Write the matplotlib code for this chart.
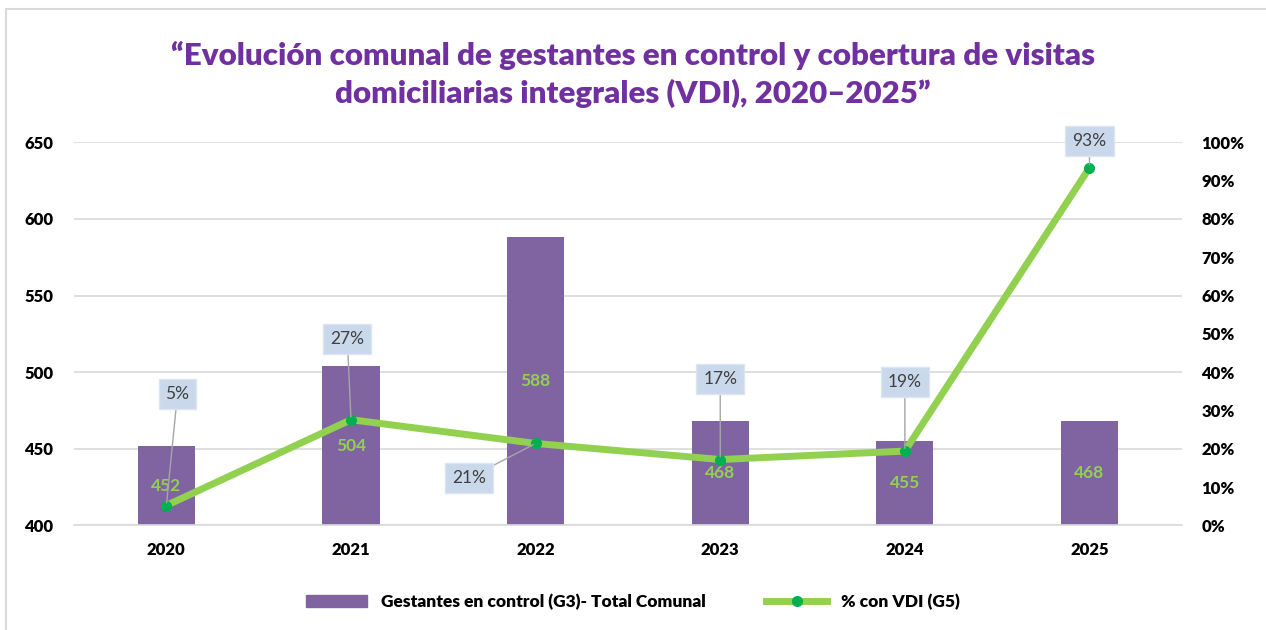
import matplotlib.pyplot as plt
import matplotlib.patches as mpatches
from matplotlib.lines import Line2D
import numpy as np

plt.rcParams['font.family'] = ['Lato', 'DejaVu Sans']

# data
years = ["2020", "2021", "2022", "2023", "2024", "2025"]
gestantes = [452, 504, 588, 468, 455, 468]
pct_vdi = [0.052, 0.276, 0.214, 0.172, 0.194, 0.934]
pct_labels = ["5%", "27%", "21%", "17%", "19%", "93%"]

BAR_COLOR = "#8064A2"
LINE_COLOR = "#92D050"
MARK_COLOR = "#00B050"
TITLE_COLOR = "#7030A0"

fig = plt.figure(figsize=(12.66, 6.3), dpi=100)
ax = fig.add_axes([0.0585, 0.166, 0.875, 0.608])
ax2 = ax.twinx()

x = np.arange(len(years))
ax.bar(x, [g - 400 for g in gestantes], bottom=400, width=0.31, color=BAR_COLOR, zorder=2)
ax.set_ylim(400, 650)
ax.set_xlim(-0.5, len(years) - 0.5)
ax.set_yticks(range(400, 651, 50))
ax.set_xticks(x)
ax.set_xticklabels(years)
ax.yaxis.grid(True, color="#d9d9d9", lw=1.2, zorder=0)
ax.set_axisbelow(True)
for s in ax.spines.values():
    s.set_visible(False)
for s in ax2.spines.values():
    s.set_visible(False)
ax.spines['bottom'].set_visible(True)
ax.spines['bottom'].set_color("#d9d9d9")
ax.spines['bottom'].set_linewidth(1.2)
ax.tick_params(length=0, labelsize=12, pad=12)
ax.tick_params(axis='y', pad=15)
for lbl in ax.get_xticklabels() + ax.get_yticklabels():
    lbl.set_fontweight('heavy')

# bar value labels, centred in the visible part of each bar
for i, g in enumerate(gestantes):
    ax.text(i, (400 + g) / 2, str(g), ha='center', va='center', color=LINE_COLOR,
            fontsize=12.5, fontweight='bold', zorder=3)

ax2.plot(x, pct_vdi, color=LINE_COLOR, lw=5, marker='o', ms=7,
         markerfacecolor=MARK_COLOR, markeredgecolor=MARK_COLOR, zorder=4,
         solid_capstyle='round')
ax2.set_ylim(0, 1)
ax2.set_yticks(np.arange(0, 1.01, 0.1))
ax2.set_yticklabels([f"{int(round(v * 100))}%" for v in np.arange(0, 1.01, 0.1)])
ax2.tick_params(length=0, labelsize=12, pad=14)
for lbl in ax2.get_yticklabels():
    lbl.set_fontweight('heavy')

# callout labels: offsets (dx in category units, dy in axis fraction)
offsets = [(0.06, 0.29), (-0.02, 0.21), (-0.36, -0.09), (0.0, 0.21), (0.0, 0.18), (0.0, 0.07)]
for i, (p, lab) in enumerate(zip(pct_vdi, pct_labels)):
    dx, dy = offsets[i]
    ax2.annotate(lab, xy=(i, p), xytext=(i + dx, p + dy), ha='center', va='center',
                 fontsize=12.5, color="#404040", zorder=5,
                 bbox=dict(boxstyle='square,pad=0.4', fc="#c9d8ea", ec="#dce6f2", lw=1),
                 arrowprops=dict(arrowstyle='-', color="#a6a6a6", lw=1,
                                 shrinkA=0, shrinkB=2))

fig.text(0.5, 0.882, "“Evolución comunal de gestantes en control y cobertura de visitas\n"
         "domiciliarias integrales (VDI), 2020–2025”", ha='center', va='center',
         fontsize=22.5, fontweight='heavy', color=TITLE_COLOR, linespacing=1.38)

handles = [mpatches.Patch(color=BAR_COLOR),
           Line2D([0], [0], color=LINE_COLOR, lw=5, marker='o', ms=7,
                  markerfacecolor=MARK_COLOR, markeredgecolor=MARK_COLOR)]
fig.legend(handles, ["Gestantes en control (G3)- Total Comunal", "% con VDI (G5)"],
           loc='center', bbox_to_anchor=(0.5, 0.045), ncol=2, frameon=False,
           prop={'size': 12.5, 'weight': 'heavy'}, handlelength=3.5, columnspacing=3.5)

# outer chart border
fig.patches.append(mpatches.Rectangle((0.005, -0.01), 1.2, 0.995, transform=fig.transFigure,
                                      fill=False, ec="#d9d9d9", lw=1.5))

fig.savefig("out.png", dpi=100)
